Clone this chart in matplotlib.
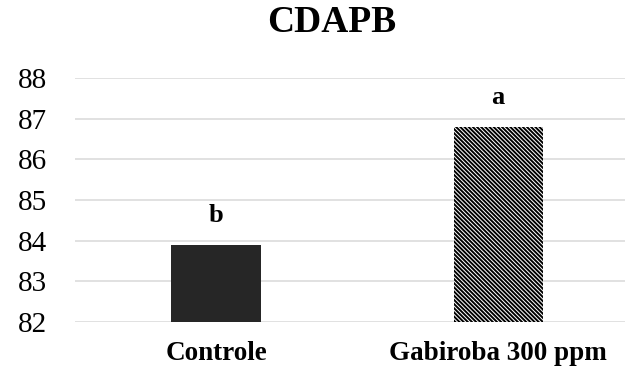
import matplotlib
matplotlib.use("Agg")
import matplotlib.pyplot as plt

categories = ["Controle", "Gabiroba 300 ppm"]
values = [83.9, 86.8]
letters = ["b", "a"]
yticks = [82, 83, 84, 85, 86, 87, 88]

plt.rcParams['font.family'] = ['Liberation Serif', 'DejaVu Serif']
plt.rcParams['hatch.linewidth'] = 1.4

fig = plt.figure(figsize=(6.25, 3.7), dpi=100)
ax = fig.add_axes([0.12, 0.1297, 0.88, 0.6595])

x = range(len(categories))
bars = ax.bar(x, [v - 82 for v in values], bottom=82, width=0.316, zorder=3)
bars[0].set_facecolor('#262626')
bars[0].set_linewidth(0)
bars[1].set_facecolor('white')
bars[1].set_edgecolor('black')
bars[1].set_hatch('\\' * 8)
bars[1].set_linewidth(0)

for i, (v, t) in enumerate(zip(values, letters)):
    ax.annotate(t, (i, v), xytext=(0, 13), textcoords='offset points',
                ha='center', va='bottom', fontsize=19, fontweight='bold')

ax.set_xlim(-0.5, 1.45)
ax.set_ylim(82, 88)
ax.set_yticks(yticks)
ax.set_xticks(list(x))
ax.set_xticklabels(categories, fontsize=19.5, fontweight='bold')
ax.tick_params(axis='y', labelsize=21, length=0, pad=20)
ax.tick_params(axis='x', length=0, pad=14)
ax.yaxis.grid(True, color='#d9d9d9', linewidth=1.1, zorder=0)
for s in ax.spines.values():
    s.set_visible(False)

fig.text(0.531, 0.94, "CDAPB", ha='center', va='center', fontsize=27, fontweight='bold')

fig.savefig("out.png", dpi=100)
